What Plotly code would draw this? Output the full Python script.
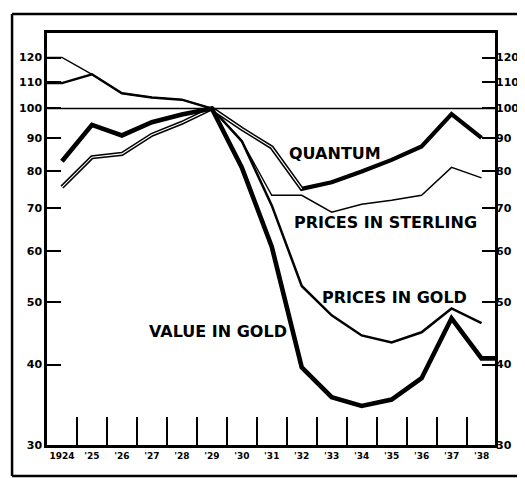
import numpy as np
import plotly.graph_objs as go

# data (index numbers, 1929 = 100, log scale)
years = list(range(1924, 1939))
year_labels = ['1924'] + ["'" + str(y)[2:] for y in years[1:]]
quantum = [75.5, 84, 85, 91, 95, 100, 93, 87, 75, 76.8, 79.8, 83.2, 87.3, 98, 90]
prices_sterling = [120, 113, 105.6, 104, 103.2, 100, 89, 73.3, 73.3, 69, 71, 72, 73.3, 81, 78]
prices_gold = [109.5, 113, 105.6, 104, 103.2, 100, 89, 70.7, 53, 47.7, 44.4, 43.3, 44.9, 48.9, 46.4]
value_gold = [82.8, 94.3, 90.8, 95.2, 97.9, 100, 81, 61, 39.6, 35.6, 34.5, 35.3, 38.1, 47.2, 40.9]
y_ticks = [30, 40, 50, 60, 70, 80, 90, 100, 110, 120]

x_lo, x_hi = 1923.5, 1938.45
y_lo, y_hi = 30, 131
base = 100

fig = go.Figure()

# prices start from the left edge, value runs on to the right edge
fig.add_trace(go.Scatter(x=[x_lo] + years, y=[prices_sterling[0]] + prices_sterling,
                         mode='lines', line=dict(color='black', width=1.4), hoverinfo='skip'))
fig.add_trace(go.Scatter(x=[x_lo] + years, y=[prices_gold[0]] + prices_gold,
                         mode='lines', line=dict(color='black', width=2.5), hoverinfo='skip'))
fig.add_trace(go.Scatter(x=years, y=quantum, mode='lines',
                         line=dict(color='black', width=4.2), hoverinfo='skip'))
# double-line look of quantum up to 1932
fig.add_trace(go.Scatter(x=years[:9], y=quantum[:9], mode='lines',
                         line=dict(color='white', width=1.1), hoverinfo='skip'))
fig.add_trace(go.Scatter(x=years + [x_hi], y=value_gold + [value_gold[-1]], mode='lines',
                         line=dict(color='black', width=4.6), hoverinfo='skip'))
# dummy trace so the right hand axis is drawn
fig.add_trace(go.Scatter(x=years, y=quantum, yaxis='y2', mode='lines',
                         line=dict(color='rgba(0,0,0,0)'), hoverinfo='skip'))

tick_font = dict(family='DejaVu Sans', size=11, color='black', weight='bold')
label_font = dict(family='DejaVu Sans', size=16, color='black', weight='bold')

labels = [
    ('QUANTUM', 1933.1, 85.2),
    ('PRICES IN STERLING', 1934.8, 66.5),
    ('PRICES IN GOLD', 1935.1, 50.8),
    ('VALUE IN GOLD', 1929.2, 45.1),
]
for txt, lx, ly in labels:
    fig.add_annotation(x=lx, y=np.log10(ly), text=txt, showarrow=False,
                       font=label_font, xanchor='center', yanchor='middle')

# line at 100 across the plot
fig.add_shape(type='line', xref='paper', x0=0, x1=1, yref='y', y0=base, y1=base,
              line=dict(color='black', width=1.6))
# outer frame of the page (top, left, bottom; right side is cut off)
frame = dict(color='black', width=2.5)
fig.add_shape(type='line', xref='paper', yref='paper', x0=-0.078, x1=1.2, y0=1.046, y1=1.046, line=frame)
fig.add_shape(type='line', xref='paper', yref='paper', x0=-0.078, x1=-0.078, y0=-0.075, y1=1.046, line=frame)
fig.add_shape(type='line', xref='paper', yref='paper', x0=-0.078, x1=1.2, y0=-0.075, y1=-0.075, line=frame)

# page body has an 8px margin, so the figure is a bit smaller than the window
fig.update_layout(
    width=517, height=470,
    margin=dict(l=39, r=30, t=25, b=33),
    paper_bgcolor='white', plot_bgcolor='white',
    showlegend=False,
    xaxis=dict(range=[x_lo, x_hi], tickvals=years, ticktext=year_labels, automargin=False,
               ticks='', tickfont=dict(family='DejaVu Sans', size=9, color='black', weight='bold'),
               showgrid=False, zeroline=False, showline=True, linecolor='black',
               linewidth=2.5, mirror=True,
               minor=dict(tickvals=[y + 0.5 for y in years[:-1]], ticks='inside',
                          ticklen=28, tickwidth=2, tickcolor='black', showgrid=False)),
    yaxis=dict(type='log', range=[np.log10(y_lo), np.log10(y_hi)], tickvals=y_ticks,
               automargin=False,
               ticks='inside', ticklen=14, tickwidth=2, tickcolor='black',
               tickfont=tick_font, showgrid=False, zeroline=False,
               showline=True, linecolor='black', linewidth=2.5, mirror=True),
    yaxis2=dict(type='log', range=[np.log10(y_lo), np.log10(y_hi)], tickvals=y_ticks,
                automargin=False,
                overlaying='y', side='right', ticks='inside', ticklen=13, tickwidth=2,
                tickcolor='black', tickfont=tick_font, showgrid=False, zeroline=False,
                showline=False),
)

fig.write_html("out.html")
